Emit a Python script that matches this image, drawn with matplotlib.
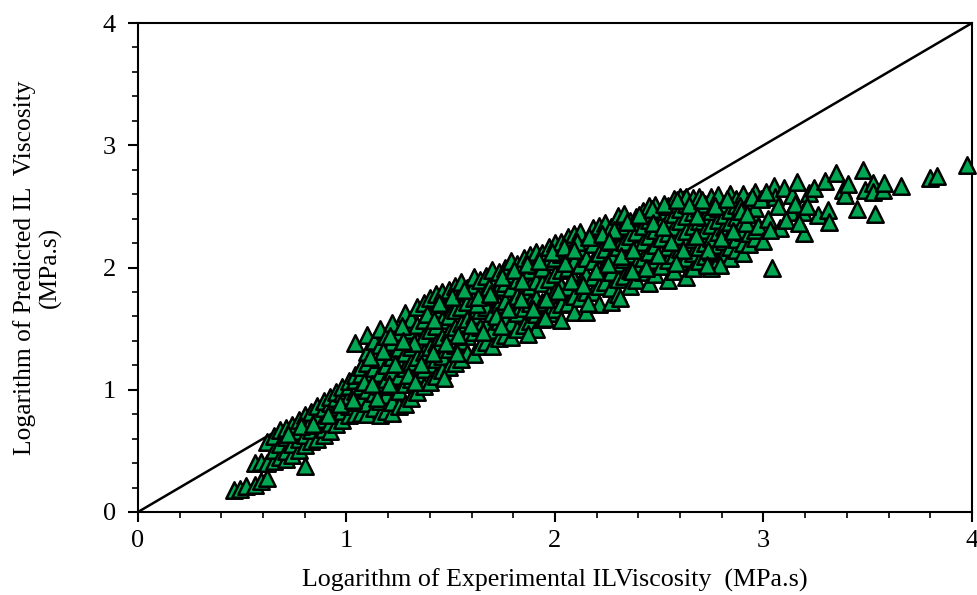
import matplotlib
matplotlib.use('Agg')
import matplotlib.pyplot as plt
from matplotlib.ticker import MultipleLocator

plt.rcParams['font.family'] = ['Liberation Serif', 'DejaVu Serif']

# one x value per column of points
x_cols = [0.46, 0.49, 0.52, 0.56, 0.59, 0.62,
          0.65, 0.68, 0.71, 0.74, 0.77, 0.80,
          0.83, 0.86, 0.89, 0.92, 0.95, 0.98,
          1.01, 1.04, 1.07, 1.10, 1.13, 1.16,
          1.19, 1.22, 1.25, 1.28, 1.31, 1.34,
          1.37, 1.40, 1.43, 1.46, 1.49, 1.52,
          1.55, 1.58, 1.61, 1.64, 1.67, 1.70,
          1.73, 1.76, 1.79, 1.82, 1.85, 1.88,
          1.91, 1.94, 1.97, 2.00, 2.03, 2.06,
          2.09, 2.12, 2.15, 2.18, 2.21, 2.24,
          2.27, 2.30, 2.33, 2.36, 2.39, 2.42,
          2.45, 2.48, 2.51, 2.54, 2.57, 2.60,
          2.63, 2.66, 2.69, 2.72, 2.75, 2.78,
          2.81, 2.84, 2.87, 2.90, 2.93, 2.96]
y_cols = [
    [0.18], [0.19], [0.21], [0.22, 0.40], [0.25, 0.41], [0.28, 0.40, 0.57],
    [0.42, 0.51, 0.62], [0.45, 0.56, 0.67], [0.43, 0.50, 0.61, 0.69], [0.47, 0.56, 0.71], [0.51, 0.60, 0.66, 0.75], [0.38, 0.55, 0.63, 0.71, 0.79],
    [0.58, 0.67, 0.75, 0.82], [0.60, 0.71, 0.79, 0.87], [0.63, 0.68, 0.76, 0.85, 0.91], [0.66, 0.73, 0.81, 0.89, 0.94], [0.72, 0.79, 0.86, 0.93, 0.98], [0.75, 0.83, 0.91, 0.97, 1.02],
    [0.79, 0.87, 0.95, 1.03, 1.07], [0.80, 0.90, 0.99, 1.08, 1.12, 1.38], [0.81, 0.93, 1.03, 1.13, 1.19], [0.80, 0.89, 1.00, 1.10, 1.22, 1.31, 1.45], [0.85, 0.97, 1.07, 1.18, 1.28, 1.40], [0.79, 0.91, 1.03, 1.14, 1.25, 1.37, 1.50],
    [0.83, 0.96, 1.09, 1.20, 1.32, 1.44], [0.81, 0.90, 1.03, 1.15, 1.27, 1.39, 1.55], [0.87, 0.99, 1.11, 1.23, 1.34, 1.47], [0.88, 1.05, 1.18, 1.30, 1.42, 1.54, 1.63], [0.93, 1.09, 1.23, 1.35, 1.49, 1.58], [0.98, 1.13, 1.27, 1.40, 1.53, 1.68],
    [1.03, 1.17, 1.31, 1.44, 1.57, 1.71], [1.06, 1.21, 1.35, 1.49, 1.62, 1.75], [1.11, 1.25, 1.38, 1.52, 1.66, 1.78], [1.16, 1.28, 1.43, 1.57, 1.70, 1.80], [1.19, 1.33, 1.47, 1.60, 1.74, 1.82], [1.22, 1.37, 1.51, 1.65, 1.77, 1.85],
    [1.25, 1.40, 1.55, 1.68, 1.80, 1.88], [1.30, 1.44, 1.58, 1.72, 1.83], [1.29, 1.47, 1.61, 1.75, 1.86, 1.92], [1.36, 1.51, 1.65, 1.78, 1.90], [1.39, 1.53, 1.68, 1.81, 1.93], [1.36, 1.49, 1.63, 1.77, 1.89, 1.98],
    [1.42, 1.56, 1.70, 1.84, 1.96], [1.45, 1.59, 1.73, 1.87, 2.00], [1.43, 1.55, 1.69, 1.83, 1.95, 2.05], [1.50, 1.63, 1.77, 1.90, 2.03], [1.53, 1.67, 1.81, 1.94, 2.08], [1.56, 1.71, 1.85, 1.98, 2.10],
    [1.50, 1.62, 1.75, 1.89, 2.02, 2.13], [1.58, 1.72, 1.87, 2.00, 2.12], [1.63, 1.78, 1.91, 2.05, 2.17], [1.66, 1.81, 1.95, 2.08, 2.20], [1.57, 1.70, 1.85, 1.98, 2.11, 2.21], [1.71, 1.84, 2.00, 2.13, 2.25],
    [1.64, 1.77, 1.91, 2.05, 2.17, 2.27], [1.75, 1.88, 2.02, 2.16, 2.29], [1.64, 1.80, 1.94, 2.08, 2.21], [1.80, 1.92, 2.05, 2.19, 2.32], [1.70, 1.85, 1.99, 2.12, 2.26, 2.34], [1.88, 2.02, 2.15, 2.28, 2.36],
    [1.72, 1.83, 1.96, 2.09, 2.21, 2.33], [1.78, 1.91, 2.04, 2.17, 2.30, 2.42], [1.93, 2.07, 2.21, 2.34, 2.44], [1.85, 1.98, 2.11, 2.26, 2.38], [1.90, 2.03, 2.16, 2.29, 2.41], [1.96, 2.08, 2.21, 2.34, 2.46],
    [1.87, 2.00, 2.13, 2.26, 2.39, 2.50], [1.95, 2.06, 2.18, 2.31, 2.42, 2.51], [2.01, 2.12, 2.24, 2.36, 2.46], [1.90, 2.06, 2.17, 2.28, 2.40, 2.50], [1.97, 2.10, 2.22, 2.33, 2.44, 2.56], [2.04, 2.15, 2.26, 2.38, 2.48, 2.58],
    [1.92, 2.08, 2.20, 2.30, 2.42, 2.52, 2.58], [2.00, 2.12, 2.23, 2.34, 2.45, 2.57], [2.05, 2.17, 2.27, 2.38, 2.49, 2.58], [2.09, 2.20, 2.31, 2.41, 2.52], [2.00, 2.13, 2.24, 2.35, 2.46, 2.58], [2.06, 2.18, 2.29, 2.39, 2.49, 2.59],
    [2.12, 2.22, 2.33, 2.43, 2.52], [2.08, 2.17, 2.27, 2.37, 2.47, 2.60], [2.14, 2.23, 2.32, 2.41, 2.51, 2.56], [2.12, 2.20, 2.29, 2.38, 2.46, 2.60], [2.19, 2.28, 2.36, 2.45, 2.54], [2.24, 2.31, 2.40, 2.49, 2.62],
]

# points between the columns, so the band is not so regular
x_fill = [0.72, 0.78, 0.84, 0.91, 0.97, 1.03, 1.085, 1.115, 1.145, 1.175, 1.205, 1.235,
          1.265, 1.295, 1.325, 1.355, 1.385, 1.415, 1.445, 1.475, 1.505, 1.535, 1.565, 1.595,
          1.625, 1.655, 1.685, 1.715, 1.745, 1.775, 1.805, 1.835, 1.865, 1.895, 1.925, 1.955,
          1.985, 2.015, 2.045, 2.075, 2.105, 2.135, 2.165, 2.195, 2.225, 2.255, 2.285, 2.315,
          2.345, 2.375, 2.405, 2.435, 2.465, 2.495, 2.525, 2.555, 2.585, 2.615, 2.645, 2.675,
          2.705, 2.735, 2.765, 2.795, 2.825, 2.855, 2.885, 2.915, 2.945, 2.975,
          1.12, 1.21, 1.33, 1.42, 1.53, 1.63, 1.74, 1.84, 1.95, 2.05, 2.16, 2.26,
          2.37, 2.47, 2.58, 2.68, 2.79, 2.89, 1.27, 1.47, 1.69, 1.87, 2.09, 2.31,
          2.52, 2.73, 2.92]
y_fill = [0.64, 0.70, 0.72, 0.79, 0.88, 0.92, 1.06, 1.27, 0.93, 1.32, 1.05, 1.21,
          1.52, 1.12, 1.38, 1.21, 1.62, 1.30, 1.71, 1.38, 1.76, 1.45, 1.82, 1.53,
          1.70, 1.47, 1.84, 1.60, 1.92, 1.66, 1.98, 1.74, 2.03, 1.66, 2.05, 1.74,
          2.13, 1.81, 2.17, 1.89, 2.21, 1.86, 2.25, 1.97, 2.27, 2.03, 2.31, 2.09,
          2.37, 2.14, 2.43, 2.00, 2.48, 2.10, 2.52, 2.21, 2.55, 2.14, 2.51, 2.26,
          2.55, 2.14, 2.50, 2.24, 2.56, 2.30, 2.50, 2.36, 2.58, 2.34,
          1.05, 1.44, 1.06, 1.57, 1.30, 1.76, 1.52, 1.89, 1.59, 2.04, 1.71, 2.22,
          1.97, 2.36, 2.04, 2.42, 2.02, 2.46, 1.40, 1.10, 1.78, 1.46, 2.14, 1.75,
          2.33, 2.02, 2.44]

# sparse points at the right end
x_end = [2.99, 3.00, 3.02, 3.04, 3.05, 3.055, 3.08, 3.10, 3.13, 3.135, 3.16, 3.19,
         3.195, 3.22, 3.24, 3.26, 3.295, 3.31, 3.315, 3.35, 3.38, 3.39, 3.405, 3.45,
         3.475, 3.487, 3.525, 3.525, 3.535, 3.575, 3.58, 3.66, 3.80, 3.83, 3.976,
         3.01, 3.03, 3.07, 3.11, 3.15, 3.17, 3.21]
y_end = [2.56, 2.22, 2.40, 2.00, 2.67, 2.58, 2.32, 2.65, 2.45, 2.59, 2.70, 2.45,
         2.28, 2.61, 2.65, 2.43, 2.71, 2.47, 2.37, 2.77, 2.63, 2.59, 2.68, 2.48,
         2.80, 2.63, 2.69, 2.62, 2.44, 2.63, 2.69, 2.67, 2.73, 2.75, 2.84,
         2.62, 2.31, 2.50, 2.39, 2.52, 2.36, 2.50]

line_x = [0, 4]
line_y = [0, 4]
major_ticks = [0, 1, 2, 3, 4]

assert len(x_cols) == len(y_cols)
assert len(x_fill) == len(y_fill)
assert len(x_end) == len(y_end)

# expand the columns into flat point lists
exp_visc = []
pred_visc = []
for x, ys in zip(x_cols, y_cols):
    for y in ys:
        exp_visc.append(x)
        pred_visc.append(y)
exp_visc += x_fill + x_end
pred_visc += y_fill + y_end

fig = plt.figure(figsize=(9.78, 5.95), dpi=100)
ax = fig.add_axes([138 / 978, 1 - 512 / 595, (972 - 138) / 978, (512 - 23) / 595])

ax.plot(line_x, line_y, color='black', lw=1.8, zorder=2)
ax.scatter(exp_visc, pred_visc, marker='^', s=140, facecolor='#00A651',
           edgecolor='black', linewidth=1.8, clip_on=False, zorder=4)

ax.set_xlim(0, 4)
ax.set_ylim(0, 4)
ax.set_xticks(major_ticks)
ax.set_yticks(major_ticks)
ax.xaxis.set_minor_locator(MultipleLocator(0.2))
ax.yaxis.set_minor_locator(MultipleLocator(0.2))
ax.tick_params(which='major', length=7, width=1.5, labelsize=19, color='black')
ax.tick_params(axis='x', which='major', pad=6)
ax.tick_params(axis='y', which='major', pad=9)
ax.tick_params(which='minor', length=4, width=1.2)
for s in ax.spines.values():
    s.set_linewidth(1.5)
    s.set_zorder(3)

ax.set_xlabel('Logarithm of Experimental ILViscosity  (MPa.s)', fontsize=18.7, labelpad=12)
ax.set_ylabel('Logarithm of Predicted IL  Viscosity\n(MPa.s)', fontsize=18.4,
              linespacing=1.15, labelpad=29.5)

fig.savefig('out.png', dpi=100)
